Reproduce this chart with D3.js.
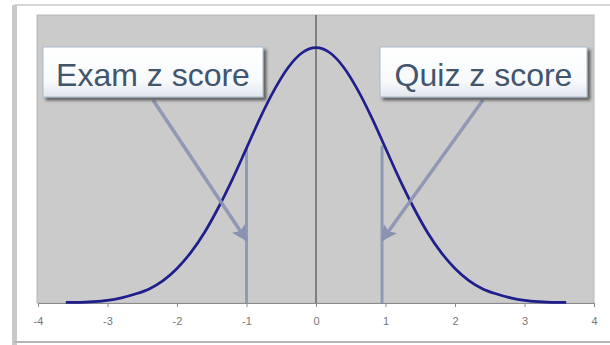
<!DOCTYPE html>
<html>
<head>
<meta charset="utf-8">
<script src="https://cdn.jsdelivr.net/npm/d3@7"></script>
<style>
  body { margin: 0; background: #fff; }
  .axis path, .axis line { stroke: #8a8a8a; }
  .axis text { font-family: "Liberation Sans", Arial, sans-serif; font-size: 11px; fill: #777; }
  .box-label { font-family: "Liberation Sans", Arial, sans-serif; font-size: 32px; fill: #41556d; }
</style>
</head>
<body>
<div id="chart"></div>
<script>
// Data
var zTicks = [-4, -3, -2, -1, 0, 1, 2, 3, 4];
var curveZ = [-3.6, -3.4, -3.2, -3.0, -2.8, -2.6, -2.4, -2.2, -2.0, -1.8, -1.6, -1.4, -1.2, -1.0,
              -0.8, -0.6, -0.4, -0.2, 0, 0.2, 0.4, 0.6, 0.8, 1.0, 1.2, 1.4, 1.6, 1.8, 2.0,
              2.2, 2.4, 2.6, 2.8, 3.0, 3.2, 3.4, 3.6];
var curveDensity = [0.001, 0.001, 0.002, 0.004, 0.008, 0.014, 0.022, 0.035, 0.054, 0.079, 0.111, 0.150, 0.194, 0.242,
                    0.290, 0.333, 0.368, 0.391, 0.399, 0.391, 0.368, 0.333, 0.290, 0.242, 0.194, 0.150, 0.111, 0.079, 0.054,
                    0.035, 0.022, 0.014, 0.008, 0.004, 0.002, 0.001, 0.001];
var scoreLabels = ["Exam z score", "Quiz z score"];
var scoreZ = [-1, 0.95];
var scoreDensity = [0.242, 0.246];
var arrowTipDensity = [0.098, 0.098];

// layout
var W = 610, H = 345;
var margin = {top: 15, right: 16, bottom: 42, left: 38};
var width = W - margin.left - margin.right,
    height = H - margin.top - margin.bottom;
var boxes = [
  {x: 43, y: 47, w: 220, h: 50, ax: 153},
  {x: 380, y: 47, w: 207, h: 50, ax: 483}
];

var svg = d3.select("#chart")
  .append("svg")
    .attr("width", W)
    .attr("height", H);

var defs = svg.append("defs");
var grad = defs.append("linearGradient")
    .attr("id", "boxGrad")
    .attr("x1", 0).attr("y1", 0).attr("x2", 0).attr("y2", 1);
grad.append("stop").attr("offset", "0%").attr("stop-color", "#ffffff");
grad.append("stop").attr("offset", "70%").attr("stop-color", "#f7f9fb");
grad.append("stop").attr("offset", "100%").attr("stop-color", "#dfe5ec");

var shadow = defs.append("filter")
    .attr("id", "shadow")
    .attr("x", "-10%").attr("y", "-20%").attr("width", "130%").attr("height", "160%");
shadow.append("feDropShadow")
    .attr("dx", 3).attr("dy", 3).attr("stdDeviation", 1.5)
    .attr("flood-color", "#333").attr("flood-opacity", 0.7);

defs.append("marker")
    .attr("id", "arrowHead")
    .attr("markerUnits", "userSpaceOnUse")
    .attr("viewBox", "0 0 10 10")
    .attr("refX", 9).attr("refY", 5)
    .attr("markerWidth", 17).attr("markerHeight", 16)
    .attr("orient", "auto")
  .append("path")
    .attr("d", "M0,0 L10,5 L0,10 L2,5 Z")
    .attr("fill", "#8a92b2");

// window frame
svg.append("line")
    .attr("x1", 14).attr("x2", W).attr("y1", 5).attr("y2", 5)
    .attr("stroke", "#d6d6d6").attr("stroke-width", 2);
svg.append("rect")
    .attr("x", 12).attr("y", 5).attr("width", 5).attr("height", H - 5)
    .attr("fill", "#c9c9c9");
svg.append("line")
    .attr("x1", 14).attr("x2", W).attr("y1", 342).attr("y2", 342)
    .attr("stroke", "#b5b5b5").attr("stroke-width", 2);

var g = svg.append("g")
    .attr("transform", "translate(" + margin.left + "," + margin.top + ")");

var x = d3.scaleLinear().domain([-4, 4]).range([0, width]);
var y = d3.scaleLinear().domain([0, 0.45]).range([height, 0]);

// plot background
g.append("rect")
    .attr("x", -1).attr("y", 0)
    .attr("width", width + 1).attr("height", height)
    .attr("fill", "#cbcbcb")
    .attr("stroke", "#b8b8b8");

// x axis
g.append("g")
    .attr("class", "axis")
    .attr("transform", "translate(0," + height + ")")
    .call(d3.axisBottom(x).tickValues(zTicks).tickSize(4).tickSizeOuter(4).tickPadding(10)
      .tickFormat(function(d) { return String(d); }));

// drop lines for the two z scores
g.selectAll(".drop")
    .data(scoreZ)
  .enter().append("line")
    .attr("class", "drop")
    .attr("x1", function(d) { return x(d); })
    .attr("x2", function(d) { return x(d); })
    .attr("y1", y(0))
    .attr("y2", function(d, i) { return y(scoreDensity[i]); })
    .attr("stroke", "#8e9bb5")
    .attr("stroke-width", 3);

// zero line
g.append("line")
    .attr("x1", x(0)).attr("x2", x(0))
    .attr("y1", 0).attr("y2", height)
    .attr("stroke", "#333").attr("stroke-width", 1);

// normal curve
var curveData = curveZ.map(function(z, i) { return {z: z, d: curveDensity[i]}; });
var line = d3.line()
    .x(function(d) { return x(d.z); })
    .y(function(d) { return y(d.d); })
    .curve(d3.curveMonotoneX);

g.append("path")
    .datum(curveData)
    .attr("d", line)
    .attr("fill", "none")
    .attr("stroke", "#1e1e8c")
    .attr("stroke-width", 2.7);

// arrows from the labels to the scores
g.selectAll(".arrow")
    .data(scoreZ)
  .enter().append("line")
    .attr("class", "arrow")
    .attr("x1", function(d, i) { return boxes[i].ax - margin.left; })
    .attr("y1", boxes[0].y + boxes[0].h + 3 - margin.top)
    .attr("x2", function(d) { return x(d); })
    .attr("y2", function(d, i) { return y(arrowTipDensity[i]); })
    .attr("stroke", "#8a92b2")
    .attr("stroke-opacity", 0.9)
    .attr("stroke-width", 3.5)
    .attr("marker-end", "url(#arrowHead)");

// label boxes
var box = svg.selectAll(".box")
    .data(scoreLabels)
  .enter().append("g")
    .attr("class", "box")
    .attr("transform", function(d, i) { return "translate(" + boxes[i].x + "," + boxes[i].y + ")"; });

box.append("rect")
    .attr("width", function(d, i) { return boxes[i].w; })
    .attr("height", function(d, i) { return boxes[i].h; })
    .attr("fill", "url(#boxGrad)")
    .attr("stroke", "#a9bccd")
    .attr("stroke-width", 1)
    .attr("filter", "url(#shadow)");

box.append("text")
    .attr("class", "box-label")
    .attr("x", function(d, i) { return boxes[i].w / 2; })
    .attr("y", 39)
    .attr("text-anchor", "middle")
    .text(function(d) { return d; });
</script>
</body>
</html>
